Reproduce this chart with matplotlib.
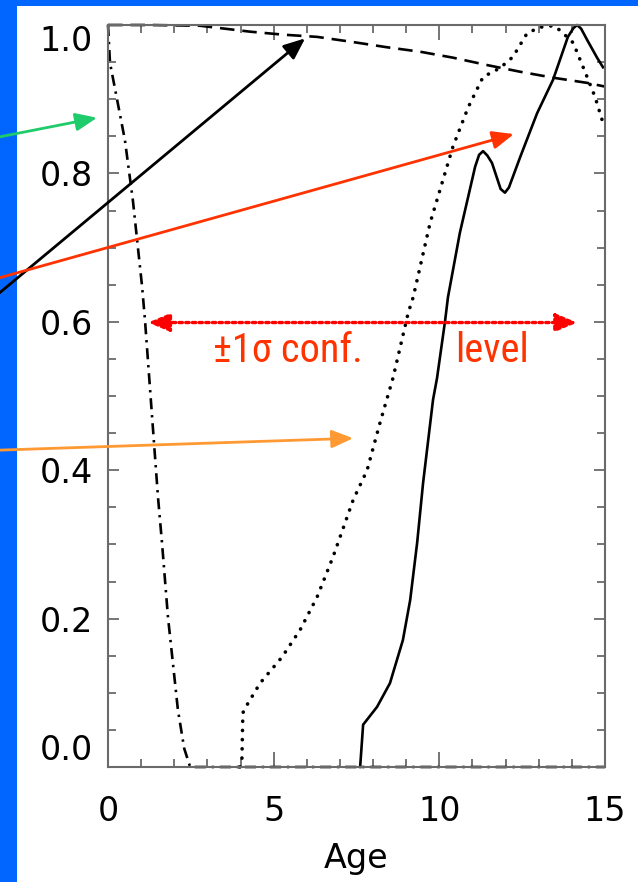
import matplotlib
matplotlib.use("Agg")
import matplotlib.pyplot as plt
from matplotlib import font_manager
from matplotlib.patches import Rectangle
from matplotlib.ticker import MultipleLocator

# ---------------- data ----------------
dashdot_age = [0.0, 0.06, 0.51, 0.75, 1.03, 1.12, 1.36, 1.51, 1.63, 1.81, 2.11, 2.30, 2.48, 15.0]
dashdot_val = [1.0, 0.949, 0.845, 0.764, 0.647, 0.600, 0.454, 0.363, 0.302, 0.202, 0.077, 0.025, 0.0, 0.0]

dotted_age = [3.98, 4.04, 4.07, 4.20, 4.59, 5.25, 5.80, 6.31, 6.79, 7.40, 7.82, 8.21, 8.60, 9.06,
              9.21, 9.72, 10.41, 10.87, 11.32, 11.83, 12.22, 12.65, 13.04, 13.43, 13.64, 14.04,
              14.46, 14.70, 14.94]
dotted_val = [0.0, 0.007, 0.073, 0.084, 0.113, 0.148, 0.185, 0.229, 0.283, 0.360, 0.400, 0.464,
              0.524, 0.612, 0.633, 0.733, 0.836, 0.889, 0.930, 0.942, 0.957, 0.989, 0.997, 0.999,
              0.993, 0.976, 0.930, 0.903, 0.868]

solid_age = [7.61, 7.70, 8.12, 8.51, 8.90, 9.12, 9.33, 9.51, 9.81, 9.93, 10.17, 10.26, 10.62,
             11.08, 11.20, 11.32, 11.45, 11.59, 11.85, 11.98, 12.10, 12.44, 12.95, 13.43, 13.64,
             13.88, 14.05, 14.16, 14.28, 14.46, 14.76, 14.94]
solid_val = [0.0, 0.057, 0.081, 0.113, 0.171, 0.225, 0.302, 0.383, 0.495, 0.524, 0.600, 0.633,
             0.720, 0.809, 0.825, 0.830, 0.824, 0.814, 0.779, 0.774, 0.781, 0.822, 0.881, 0.926,
             0.953, 0.984, 0.996, 1.0, 0.995, 0.980, 0.956, 0.943]

dashed_age = [0.0, 1.27, 2.78, 4.29, 5.28, 6.31, 7.40, 8.42, 9.42, 10.41, 11.44, 12.44, 13.43, 14.46, 15.0]
dashed_val = [1.0, 1.0, 0.999, 0.991, 0.987, 0.984, 0.977, 0.970, 0.964, 0.956, 0.946, 0.937,
              0.929, 0.922, 0.917]

x_ticks = [0, 5, 10, 15]
x_ticklabels = ["0", "5", "10", "15"]
y_ticks = [0.0, 0.2, 0.4, 0.6, 0.8, 1.0]
y_ticklabels = ["0.0", "0.2", "0.4", "0.6", "0.8", "1.0"]
x_label = "Age"
conf_text = ["\u00b11\u03c3 conf.", "level"]

# annotation arrows: (start, tip) in data coordinates, colour
arrow_starts = [(-3.3, 0.849), (-3.3, 0.638), (-3.3, 0.659), (-3.3, 0.427)]
arrow_tips = [(-0.33, 0.875), (5.95, 0.982), (12.25, 0.853), (7.40, 0.443)]
arrow_colors = ["#1FCB6A", "#000000", "#FF3300", "#FF9933"]
conf_range = (1.21, 14.16, 0.599)

# ---------------- fonts ----------------
available = {f.name for f in font_manager.fontManager.ttflist}
narrow = "DejaVu Sans"
for cand in ["Liberation Sans Narrow", "Roboto Condensed", "Open Sans Condensed",
             "DejaVu Sans Condensed", "Liberation Sans"]:
    if cand in available:
        narrow = cand
        break

plt.rcParams["font.family"] = ["DejaVu Sans"]

fig = plt.figure(figsize=(6.38, 8.82), dpi=100)
fig.patch.set_facecolor("white")
blue = "#0066FF"
fig.add_artist(Rectangle((0, 0), 17 / 638, 1, transform=fig.transFigure,
                         facecolor=blue, edgecolor="none", zorder=-5))
fig.add_artist(Rectangle((0, 1 - 6 / 882), 1, 6 / 882, transform=fig.transFigure,
                         facecolor=blue, edgecolor="none", zorder=-5))

ax = fig.add_axes([108 / 638, 115 / 882, 497 / 638, 742 / 882])
ax.set_xlim(0, 15)
ax.set_ylim(0, 1.0)

lw = 1.9
ax.plot(dashdot_age, dashdot_val, color="black", lw=lw,
        linestyle=(0, (4.2, 2.2, 0.9, 2.2)), clip_on=False)
ax.plot(dotted_age, dotted_val, color="black", lw=2.6,
        linestyle=(0, (0.05, 2.5)), dash_capstyle="round", clip_on=False)
ax.plot(solid_age, solid_val, color="black", lw=lw, clip_on=False)
ax.plot(dashed_age, dashed_val, color="black", lw=lw,
        linestyle=(0, (5.5, 3.0)), clip_on=False)

frame_col = "#6a6a6a"
for s in ax.spines.values():
    s.set_color(frame_col)
    s.set_linewidth(1.5)

ax.set_xticks(x_ticks)
ax.set_xticklabels(x_ticklabels)
ax.set_yticks(y_ticks)
ax.set_yticklabels(y_ticklabels)
ax.xaxis.set_minor_locator(MultipleLocator(1))
ax.yaxis.set_minor_locator(MultipleLocator(0.05))
ax.tick_params(axis="both", which="both", direction="in", top=True, right=True,
               color=frame_col, width=1.3, labelsize=24, labelcolor="black")
ax.tick_params(axis="x", which="major", length=11, pad=20)
ax.tick_params(axis="x", which="minor", length=5.5)
ax.tick_params(axis="y", which="major", length=8, pad=11)
ax.tick_params(axis="y", which="minor", length=5.5)

yt = ax.yaxis.get_major_ticks()
yt[0].label1.set_va("bottom")
yt[-1].label1.set_va("top")

ax.set_xlabel(x_label, fontsize=24, labelpad=10)

# arrows
for (sx, sy), (tx, ty), c in zip(arrow_starts, arrow_tips, arrow_colors):
    ax.annotate("", xy=(tx, ty), xytext=(sx, sy), xycoords="data", textcoords="data",
                annotation_clip=False,
                arrowprops=dict(arrowstyle="-|>,head_length=1.0,head_width=0.42",
                                mutation_scale=13, color=c, lw=2.0,
                                shrinkA=0, shrinkB=0), zorder=6)

x0, x1, yc = conf_range
ax.annotate("", xy=(x1, yc), xytext=(x0, yc), xycoords="data", textcoords="data",
            arrowprops=dict(arrowstyle="<|-|>,head_length=1.0,head_width=0.42",
                            mutation_scale=13, color="#FF0000", lw=2.4,
                            linestyle=(0, (1, 1)), shrinkA=0, shrinkB=0), zorder=6)

ax.text(3.17, 0.546, conf_text[0], color="#FF3300", fontsize=29,
        family=[narrow, "DejaVu Sans"], ha="left", va="baseline")
ax.text(10.47, 0.546, conf_text[1], color="#FF3300", fontsize=29,
        family=[narrow, "DejaVu Sans"], ha="left", va="baseline")

fig.savefig("out.png", dpi=100, facecolor=fig.get_facecolor())
